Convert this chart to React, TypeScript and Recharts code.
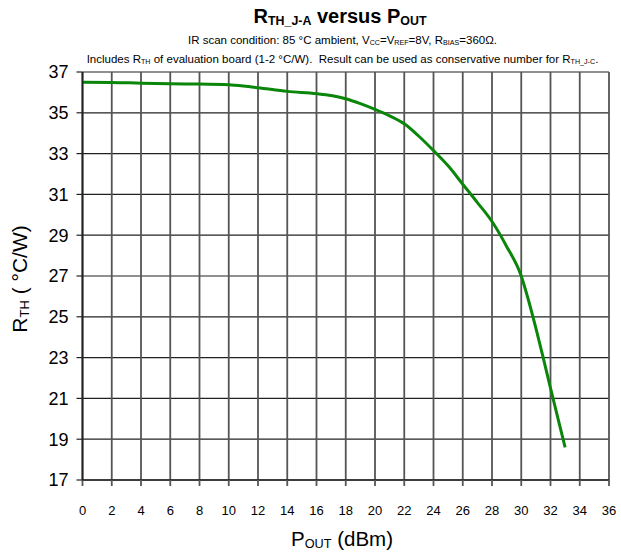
import { CartesianGrid, Line, LineChart, XAxis, YAxis } from 'recharts';

const pout = [0, 2, 4, 6, 8, 10, 11, 12, 14, 16, 17, 18, 19, 20, 21, 22, 23, 24, 25, 26, 27, 28, 29, 30, 30.5, 31, 31.5, 32, 32.5, 33];
const rth = [36.5, 36.49, 36.45, 36.42, 36.41, 36.37, 36.31, 36.23, 36.05, 35.94, 35.85, 35.69, 35.45, 35.17, 34.85, 34.46, 33.85, 33.15, 32.4, 31.5, 30.6, 29.67, 28.45, 27.0, 25.8, 24.44, 23.0, 21.5, 20.05, 18.6];

const xTicks = [0, 2, 4, 6, 8, 10, 12, 14, 16, 18, 20, 22, 24, 26, 28, 30, 32, 34, 36];
const yTicks = [17, 19, 21, 23, 25, 27, 29, 31, 33, 35, 37];

const data = pout.map((p, i) => ({ pout: p, rth: rth[i] }));

const font = '"Liberation Sans", Arial, sans-serif';
const sub: React.CSSProperties = { fontSize: '0.62em', verticalAlign: '-0.15em' };

export default function App() {
  return (
    <div style={{ position: 'absolute', left: 0, top: 0, width: 621, height: 556, background: '#fff', fontFamily: font, color: '#000' }}>
      <LineChart width={621} height={556} data={data} margin={{ top: 72, right: 12, bottom: 0, left: 0 }}>
        <CartesianGrid vertical={false} horizontalValues={yTicks} stroke="#222" strokeWidth={1.2} />
        <CartesianGrid horizontal={false} verticalValues={xTicks} stroke="#555" strokeWidth={1.8} />
        <XAxis
          dataKey="pout"
          type="number"
          domain={[0, 36]}
          ticks={xTicks}
          interval={0}
          axisLine={{ stroke: '#222', strokeWidth: 1.5 }}
          tickLine={{ stroke: '#555', strokeWidth: 1.8 }}
          tickSize={6}
          tickMargin={20}
          tick={{ fontSize: 13, fill: '#000', fontFamily: font }}
          height={76}
        />
        <YAxis
          type="number"
          domain={[17, 37]}
          ticks={yTicks}
          interval={0}
          axisLine={{ stroke: '#222', strokeWidth: 1.8 }}
          tickLine={{ stroke: '#222', strokeWidth: 1.2 }}
          tickSize={6}
          tickMargin={8}
          tick={{ fontSize: 18, fill: '#000', fontFamily: font }}
          width={82.5}
        />
        <Line type="monotone" dataKey="rth" stroke="#0a860a" strokeWidth={3} dot={false} isAnimationActive={false} />
      </LineChart>

      <div style={{ position: 'absolute', top: 5, left: 0, width: 680, textAlign: 'center', fontSize: 20, fontWeight: 'bold' }}>
        R<span style={sub}>TH_J-A</span> versus P<span style={sub}>OUT</span>
      </div>
      <div style={{ position: 'absolute', top: 34, left: 0, width: 685, textAlign: 'center', fontSize: 11.5 }}>
        IR scan condition: 85 °C ambient, V<span style={sub}>CC</span>=V<span style={sub}>REF</span>=8V, R<span style={sub}>BIAS</span>=360Ω.
      </div>
      <div style={{ position: 'absolute', top: 53, left: 0, width: 685, textAlign: 'center', fontSize: 11.5 }}>
        Includes R<span style={sub}>TH</span> of evaluation board (1-2 °C/W).&nbsp; Result can be used as conservative number for R<span style={sub}>TH_J-C</span>.
      </div>
      <div
        style={{
          position: 'absolute',
          left: 20,
          top: 279,
          fontSize: 21,
          whiteSpace: 'nowrap',
          transform: 'translate(-50%, -50%) rotate(-90deg)',
        }}
      >
        R<span style={sub}>TH</span> ( °C/W)
      </div>
      <div style={{ position: 'absolute', top: 527, left: 0, width: 684, textAlign: 'center', fontSize: 20.5 }}>
        P<span style={sub}>OUT</span> (dBm)
      </div>
    </div>
  );
}
